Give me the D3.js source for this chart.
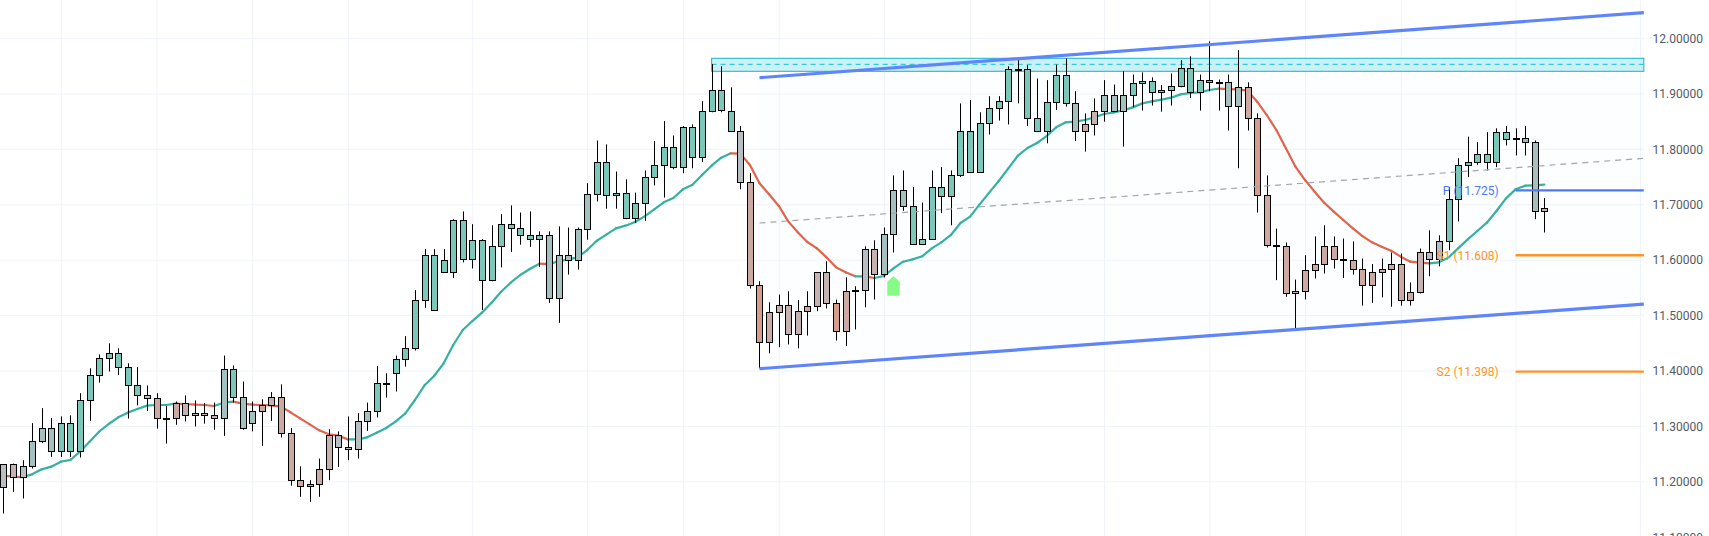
<!DOCTYPE html>
<html>
<head>
<meta charset="utf-8">
<script src="https://cdn.jsdelivr.net/npm/d3@7/dist/d3.min.js"></script>
<style>
  html, body { margin: 0; padding: 0; background: #fff; overflow: hidden; }
  svg { display: block; }
  text { font-family: Roboto, sans-serif; }
</style>
</head>
<body>
<svg id="chart" width="1709" height="536"></svg>
<script>
// one value per daily candle
const highs = [
  11.231, 11.232, 11.238, 11.305, 11.332, 11.314, 11.317, 11.319, 11.359, 11.404,
  11.429, 11.449, 11.440, 11.413, 11.406, 11.373, 11.359, 11.336, 11.344, 11.355,
  11.346, 11.341, 11.342, 11.427, 11.409, 11.380, 11.344, 11.348, 11.361, 11.375,
  11.296, 11.227, 11.202, 11.241, 11.294, 11.290, 11.317, 11.323, 11.342, 11.408,
  11.395, 11.427, 11.462, 11.545, 11.619, 11.619, 11.619, 11.673, 11.687, 11.664,
  11.637, 11.662, 11.682, 11.698, 11.685, 11.687, 11.651, 11.651, 11.660, 11.658,
  11.658, 11.738, 11.815, 11.808, 11.759, 11.745, 11.721, 11.761, 11.814, 11.850,
  11.824, 11.841, 11.844, 11.886, 11.953, 11.949, 11.911, 11.841, 11.756, 11.561,
  11.523, 11.537, 11.543, 11.527, 11.543, 11.577, 11.597, 11.528, 11.568, 11.552,
  11.624, 11.635, 11.658, 11.752, 11.761, 11.731, 11.703, 11.761, 11.767, 11.761,
  11.882, 11.888, 11.866, 11.895, 11.895, 11.949, 11.962, 11.951, 11.927, 11.924,
  11.952, 11.963, 11.904, 11.864, 11.891, 11.924, 11.916, 11.940, 11.934, 11.938,
  11.929, 11.915, 11.936, 11.960, 11.967, 11.934, 11.994, 11.925, 11.934, 11.978,
  11.920, 11.864, 11.752, 11.656, 11.631, 11.564, 11.608, 11.642, 11.662, 11.642,
  11.638, 11.633, 11.602, 11.592, 11.602, 11.613, 11.611, 11.559, 11.620, 11.653,
  11.644, 11.731, 11.783, 11.822, 11.812, 11.830, 11.837, 11.841, 11.837, 11.841,
  11.815, 11.711
];
const bodyTops = [
  11.231, 11.231, 11.227, 11.272, 11.297, 11.297, 11.306, 11.306, 11.346, 11.391,
  11.422, 11.431, 11.431, 11.406, 11.373, 11.355, 11.351, 11.315, 11.342, 11.342,
  11.323, 11.323, 11.319, 11.402, 11.402, 11.353, 11.326, 11.337, 11.353, 11.353,
  11.287, 11.202, 11.195, 11.222, 11.283, 11.283, 11.261, 11.308, 11.326, 11.377,
  11.377, 11.420, 11.440, 11.527, 11.608, 11.608, 11.599, 11.671, 11.671, 11.635,
  11.635, 11.624, 11.664, 11.664, 11.658, 11.644, 11.644, 11.644, 11.608, 11.608,
  11.655, 11.718, 11.776, 11.776, 11.720, 11.720, 11.703, 11.749, 11.770, 11.803,
  11.803, 11.839, 11.839, 11.868, 11.906, 11.906, 11.868, 11.832, 11.741, 11.555,
  11.505, 11.519, 11.519, 11.507, 11.516, 11.577, 11.577, 11.521, 11.543, 11.545,
  11.620, 11.620, 11.646, 11.725, 11.725, 11.696, 11.637, 11.732, 11.732, 11.752,
  11.832, 11.832, 11.846, 11.873, 11.886, 11.944, 11.944, 11.944, 11.855, 11.884,
  11.933, 11.933, 11.882, 11.844, 11.869, 11.898, 11.898, 11.898, 11.918, 11.922,
  11.922, 11.907, 11.913, 11.945, 11.945, 11.924, 11.924, 11.920, 11.920, 11.911,
  11.911, 11.855, 11.716, 11.626, 11.624, 11.543, 11.581, 11.593, 11.624, 11.624,
  11.602, 11.599, 11.584, 11.577, 11.583, 11.593, 11.593, 11.541, 11.613, 11.613,
  11.633, 11.709, 11.770, 11.777, 11.790, 11.790, 11.830, 11.830, 11.819, 11.819,
  11.812, 11.694
];
const bodyBottoms = [
  11.189, 11.207, 11.207, 11.227, 11.272, 11.254, 11.254, 11.254, 11.254, 11.346,
  11.391, 11.422, 11.406, 11.373, 11.355, 11.351, 11.315, 11.314, 11.314, 11.319,
  11.319, 11.319, 11.315, 11.315, 11.353, 11.296, 11.306, 11.326, 11.337, 11.287,
  11.202, 11.191, 11.191, 11.195, 11.222, 11.261, 11.258, 11.258, 11.308, 11.326,
  11.376, 11.395, 11.420, 11.440, 11.527, 11.510, 11.577, 11.577, 11.602, 11.602,
  11.563, 11.563, 11.624, 11.658, 11.644, 11.637, 11.637, 11.530, 11.530, 11.599,
  11.599, 11.655, 11.718, 11.716, 11.716, 11.676, 11.676, 11.703, 11.749, 11.770,
  11.768, 11.768, 11.786, 11.786, 11.868, 11.870, 11.832, 11.741, 11.555, 11.451,
  11.451, 11.505, 11.465, 11.465, 11.507, 11.516, 11.521, 11.472, 11.472, 11.543,
  11.545, 11.574, 11.574, 11.646, 11.696, 11.628, 11.628, 11.637, 11.714, 11.714,
  11.752, 11.759, 11.759, 11.846, 11.873, 11.886, 11.942, 11.855, 11.833, 11.833,
  11.884, 11.882, 11.832, 11.832, 11.844, 11.869, 11.869, 11.869, 11.898, 11.918,
  11.902, 11.902, 11.907, 11.913, 11.902, 11.902, 11.920, 11.919, 11.878, 11.878,
  11.855, 11.716, 11.626, 11.625, 11.539, 11.539, 11.543, 11.581, 11.593, 11.602,
  11.599, 11.584, 11.554, 11.554, 11.577, 11.583, 11.527, 11.527, 11.541, 11.602,
  11.602, 11.633, 11.709, 11.770, 11.777, 11.776, 11.776, 11.817, 11.817, 11.812,
  11.687, 11.687
];
const lows = [
  11.142, 11.181, 11.169, 11.223, 11.269, 11.244, 11.244, 11.244, 11.243, 11.309,
  11.378, 11.398, 11.392, 11.313, 11.337, 11.327, 11.295, 11.268, 11.302, 11.308,
  11.299, 11.304, 11.293, 11.282, 11.342, 11.293, 11.290, 11.264, 11.309, 11.279,
  11.192, 11.172, 11.163, 11.172, 11.202, 11.226, 11.238, 11.241, 11.291, 11.315,
  11.351, 11.362, 11.407, 11.436, 11.513, 11.510, 11.577, 11.567, 11.595, 11.584,
  11.509, 11.561, 11.586, 11.614, 11.627, 11.623, 11.587, 11.522, 11.486, 11.573,
  11.582, 11.636, 11.705, 11.692, 11.692, 11.673, 11.666, 11.670, 11.734, 11.712,
  11.763, 11.756, 11.765, 11.776, 11.866, 11.866, 11.832, 11.727, 11.548, 11.404,
  11.431, 11.442, 11.447, 11.440, 11.463, 11.507, 11.512, 11.454, 11.444, 11.474,
  11.514, 11.528, 11.568, 11.613, 11.688, 11.628, 11.628, 11.637, 11.684, 11.662,
  11.749, 11.759, 11.759, 11.826, 11.851, 11.844, 11.882, 11.841, 11.833, 11.810,
  11.870, 11.876, 11.814, 11.795, 11.824, 11.849, 11.866, 11.804, 11.875, 11.869,
  11.878, 11.867, 11.878, 11.911, 11.892, 11.869, 11.904, 11.869, 11.833, 11.765,
  11.833, 11.685, 11.622, 11.563, 11.533, 11.476, 11.528, 11.566, 11.575, 11.584,
  11.567, 11.573, 11.517, 11.522, 11.532, 11.515, 11.517, 11.517, 11.539, 11.570,
  11.588, 11.617, 11.669, 11.749, 11.771, 11.761, 11.767, 11.806, 11.788, 11.788,
  11.673, 11.649
];
// s silver, g grey-teal, t teal, m mauve, p pink, r red
const candleTones = (
  "s m s g g g t t t t t t t t t s p p p m " +
  "m m m g t g g p m p p p p p m s s s g t " +
  "t t t t t t t t t t t t t t t t t g g g " +
  "g g t t t t t t t t t t t t t t t s p r " +
  "p m m m p m m r p s s m g g g t t t t t " +
  "t t t t t t t t t t t t g p m g g g t t " +
  "t t t t t t t t g g p r p p p m p p p p " +
  "p p p p p p p p m s s t t t t t t t t t g m"
).split(" ");
const movingAverage = [
  11.2102, 11.2084, 11.2077, 11.2126, 11.2216, 11.2264, 11.2354, 11.2384, 11.2535, 11.2715,
  11.2896, 11.3034, 11.3154, 11.3239, 11.3305, 11.3365, 11.3377, 11.3377, 11.3401, 11.3395,
  11.3383, 11.3377, 11.3359, 11.3419, 11.3437, 11.3401, 11.3383, 11.3377, 11.3371, 11.3347,
  11.3245, 11.3136, 11.3028, 11.2920, 11.2848, 11.2823, 11.2757, 11.2757, 11.2793, 11.2878,
  11.2962, 11.3082, 11.3227, 11.3467, 11.3732, 11.3900, 11.4129, 11.4460, 11.4730, 11.4892,
  11.5043, 11.5223, 11.5422, 11.5584, 11.5723, 11.5831, 11.5927, 11.5921, 11.5969, 11.6005,
  11.6041, 11.6174, 11.6342, 11.6451, 11.6565, 11.6613, 11.6679, 11.6781, 11.6908, 11.7034,
  11.7112, 11.7269, 11.7353, 11.7527, 11.7696, 11.7840, 11.7918, 11.7913, 11.7708, 11.7377,
  11.7179, 11.6974, 11.6691, 11.6493, 11.6318, 11.6204, 11.6042, 11.5861, 11.5771, 11.5699,
  11.5699, 11.5669, 11.5705, 11.5843, 11.5963, 11.6005, 11.6060, 11.6204, 11.6312, 11.6445,
  11.6661, 11.6776, 11.6998, 11.7209, 11.7419, 11.7648, 11.7876, 11.8015, 11.8105, 11.8231,
  11.8388, 11.8478, 11.8490, 11.8520, 11.8568, 11.8628, 11.8658, 11.8694, 11.8748, 11.8820,
  11.8857, 11.8887, 11.8923, 11.8983, 11.9007, 11.9019, 11.9061, 11.9085, 11.9079, 11.9073,
  11.9049, 11.8851, 11.8610, 11.8340, 11.8009, 11.7678, 11.7437, 11.7227, 11.7028, 11.6866,
  11.6715, 11.6565, 11.6426, 11.6312, 11.6234, 11.6162, 11.6054, 11.5963, 11.5945, 11.5933,
  11.5951, 11.6041, 11.6204, 11.6366, 11.6517, 11.6667, 11.6878, 11.7106, 11.7269, 11.7335,
  11.7341, 11.7353
];

const priceTicks = [12, 11.9, 11.8, 11.7, 11.6, 11.5, 11.4, 11.3, 11.2, 11.1];
const timeTicks = [6, 16, 26, 36, 49, 61, 71, 81, 92, 101, 115, 126, 136, 146, 158, 171];

// [candle index, price]
const channelTop = [[79, 11.9284], [171.4, 12.0457]];
const channelBottom = [[79, 11.4032], [171.4, 11.5199]];
const channelMiddle = [[79, 11.6661], [171.4, 11.7829]];
const zoneStart = 74, zoneEnd = 171.4;
const zoneTop = 11.9634, zoneMiddle = 11.9525, zoneBottom = 11.9399;
const pivotNames = ["P", "S1", "S2"];
const pivotValues = [11.725, 11.608, 11.398];
const pivotColors = ["#4f78f7", "#ff9422", "#ff9422"];
const pivotStart = 158, pivotEnd = 171.4;
const signalIndex = 93, signalPrice = 11.5705;

const W = 1709, H = 536;
const plotRight = 1644;
const x = d3.scaleLinear().domain([0, 161]).range([3.4, 1544.3]);
const y = d3.scaleLinear().domain([12, 11.2]).range([38, 481.3]);
const toneColor = d3.scaleOrdinal()
    .domain(["s", "g", "t", "m", "p", "r"])
    .range(["#b9bec2", "#a5c1bf", "#7bc8bb", "#c6b3b1", "#cca9a2", "#d69c8c"]);

const svg = d3.select("#chart").attr("viewBox", `0 0 ${W} ${H}`);

// grid
svg.append("g").attr("class", "grid")
    .call(d3.axisLeft(y).tickValues(priceTicks).tickSize(-plotRight).tickFormat(""))
    .call(g => g.select(".domain").remove())
    .call(g => g.selectAll("line").attr("stroke", "#f0f3fa").attr("stroke-width", 1));
svg.append("g").attr("class", "grid").attr("transform", `translate(0,${H})`)
    .call(d3.axisBottom(x).tickValues(timeTicks).tickSize(-H).tickFormat(""))
    .call(g => g.select(".domain").remove())
    .call(g => g.selectAll("line").attr("stroke", "#f0f3fa").attr("stroke-width", 1));

// price labels
svg.append("g").attr("transform", `translate(1652.5,0.5)`)
    .call(d3.axisRight(y).tickValues(priceTicks).tickSize(0).tickPadding(0).tickFormat(d3.format(".5f")))
    .call(g => g.select(".domain").remove())
    .call(g => g.selectAll("text")
        .attr("fill", "#555a66").attr("font-size", 12).style("font-family", "Roboto, sans-serif"));

// channel tint
const channelArea = [...channelBottom, ...channelTop.slice().reverse()];
svg.append("path")
    .attr("d", d3.line().x(d => x(d[0])).y(d => y(d[1]))(channelArea) + "Z")
    .attr("fill", "#2962ff").attr("fill-opacity", 0.008);

// resistance zone
svg.append("rect")
    .attr("x", x(zoneStart)).attr("y", y(zoneTop))
    .attr("width", x(zoneEnd) - x(zoneStart)).attr("height", y(zoneBottom) - y(zoneTop))
    .attr("fill", "#cbf1f6").attr("stroke", "#12b5cb").attr("stroke-width", 1);
svg.append("line")
    .attr("x1", x(zoneStart)).attr("x2", x(zoneEnd))
    .attr("y1", y(zoneMiddle)).attr("y2", y(zoneMiddle))
    .attr("stroke", "#12c0d6").attr("stroke-width", 1).attr("stroke-dasharray", "5,4");

// moving average, teal while rising and red while falling
const maLine = d3.line().x(d => x(d.i)).y(d => y(d.v));
d3.pairs(movingAverage.map((v, i) => ({ i, v }))).forEach(([a, b]) => {
    svg.append("path").datum([a, b])
        .attr("d", maLine)
        .attr("fill", "none")
        .attr("stroke", b.v >= a.v ? "#35b1a1" : "#e0644b")
        .attr("stroke-width", 2.2).attr("stroke-linecap", "round");
});

// candles
const candles = svg.append("g").selectAll("g").data(highs).enter().append("g");
candles.append("line")
    .attr("x1", (_, i) => Math.round(x(i)) + 0.5).attr("x2", (_, i) => Math.round(x(i)) + 0.5)
    .attr("y1", d => y(d)).attr("y2", (_, i) => y(lows[i]))
    .attr("stroke", "#000").attr("stroke-width", 1);
candles.append("rect")
    .attr("x", (_, i) => Math.round(x(i)) - 2.5)
    .attr("y", (_, i) => Math.round(y(bodyTops[i])) + 0.5)
    .attr("width", 6)
    .attr("height", (_, i) => Math.max(1, Math.round(y(bodyBottoms[i])) - Math.round(y(bodyTops[i]))))
    .attr("fill", (_, i) => toneColor(candleTones[i]))
    .attr("stroke", "#000").attr("stroke-width", 1);

// channel lines
const trendLine = d3.line().x(d => x(d[0])).y(d => y(d[1]));
[channelTop, channelBottom].forEach(points => {
    svg.append("path").attr("d", trendLine(points))
        .attr("fill", "none").attr("stroke", "#5f85fa").attr("stroke-width", 3.2);
});
svg.append("path").attr("d", trendLine(channelMiddle))
    .attr("fill", "none").attr("stroke", "#a3a5aa").attr("stroke-width", 1.2).attr("stroke-dasharray", "6,5");

// pivots
pivotNames.forEach((name, i) => {
    svg.append("line")
        .attr("x1", x(pivotStart)).attr("x2", x(pivotEnd))
        .attr("y1", y(pivotValues[i])).attr("y2", y(pivotValues[i]))
        .attr("stroke", pivotColors[i]).attr("stroke-width", 2.4);
    svg.append("text")
        .attr("x", x(pivotStart) - 17).attr("y", y(pivotValues[i]) + 4.5)
        .attr("text-anchor", "end").attr("fill", pivotColors[i]).attr("font-size", 12)
        .text(`${name} (${pivotValues[i].toFixed(3)})`);
});

// entry signal
const sx = x(signalIndex), sy = y(signalPrice);
svg.append("path")
    .attr("d", `M${sx},${sy + 1}L${sx + 5.5},${sy + 6}V${sy + 19}H${sx - 5.5}V${sy + 6}Z`)
    .attr("fill", "#86fb86").attr("stroke", "#86fb86").attr("stroke-width", 1.5)
    .attr("stroke-linejoin", "round");
</script>
</body>
</html>
